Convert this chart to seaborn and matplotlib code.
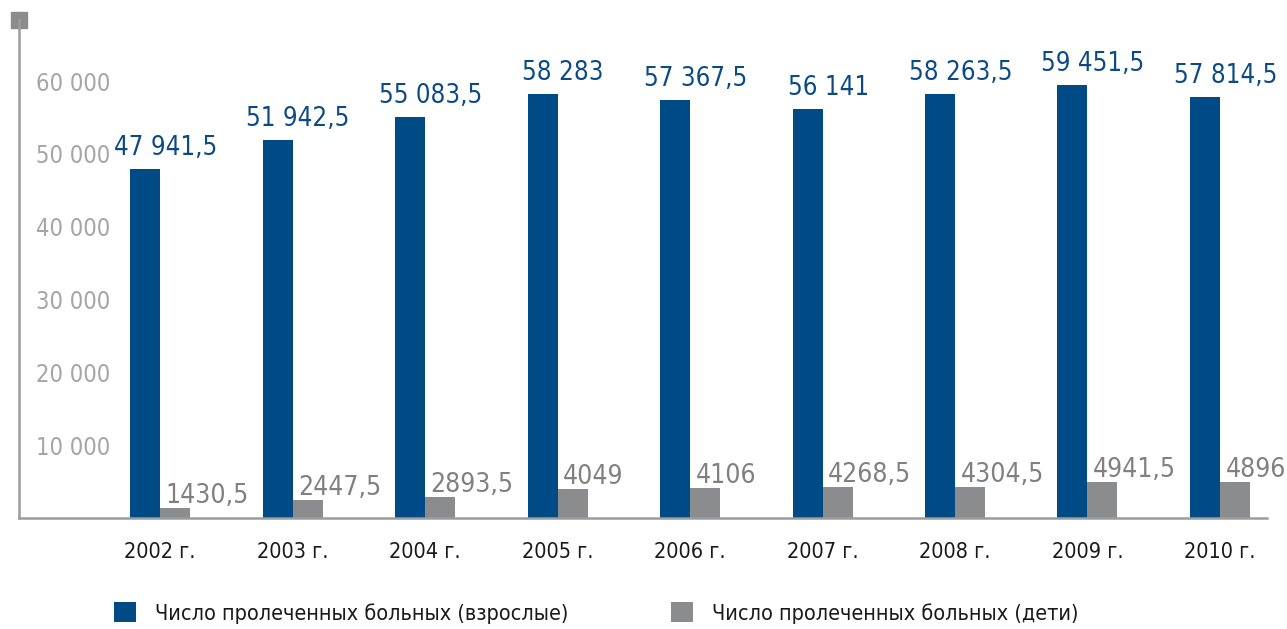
import matplotlib
matplotlib.use("Agg")
import matplotlib.pyplot as plt
import matplotlib.ticker as mticker
import pandas as pd
import seaborn as sns

# данные
years = ["2002 г.", "2003 г.", "2004 г.", "2005 г.", "2006 г.",
         "2007 г.", "2008 г.", "2009 г.", "2010 г."]
adults = [47941.5, 51942.5, 55083.5, 58283, 57367.5, 56141, 58263.5, 59451.5, 57814.5]
children = [1430.5, 2447.5, 2893.5, 4049, 4106, 4268.5, 4304.5, 4941.5, 4896]
series_names = ["Число пролеченных больных (взрослые)", "Число пролеченных больных (дети)"]

BLUE = "#004a86"
GRAY = "#8b8c8e"
AXIS = "#9c9c9c"

sns.set_style("white")
plt.rcParams["font.family"] = ["DejaVu Sans"]
plt.rcParams["font.stretch"] = "condensed"

df = pd.DataFrame({
    "year": years * 2,
    "value": adults + children,
    "group": [series_names[0]] * len(years) + [series_names[1]] * len(years),
})

W, H = 1287, 629
fig = plt.figure(figsize=(W / 100, H / 100), dpi=100)
ax = fig.add_axes([19 / W, 1 - 518 / H, 1248 / W, 498 / H])

sns.barplot(data=df, x="year", y="value", hue="group", palette=[BLUE, GRAY],
            width=0.453, gap=0, dodge=True, saturation=1, linewidth=0, ax=ax)
handles, labels = ax.get_legend_handles_labels()
ax.get_legend().remove()

ax.set_xlim(-1.065, 8.355)
ax.set_ylim(0, 68400)
ax.set_xlabel("")
ax.set_ylabel("")

# оси
sns.despine(ax=ax)
for side in ["left", "bottom"]:
    ax.spines[side].set_color(AXIS)
    ax.spines[side].set_linewidth(1.8)

ax.set_yticks([10000, 20000, 30000, 40000, 50000, 60000])
ax.yaxis.set_major_formatter(mticker.FuncFormatter(lambda v, p: f"{v:,.0f}".replace(",", " ")))
ax.tick_params(axis="y", direction="in", length=5.8, width=1.5, color=AXIS,
               labelcolor="#a6a6a6", labelsize=17, pad=-12.5)
for t in ax.get_yticklabels():
    t.set_ha("left")

ax.tick_params(axis="x", which="major", length=0, labelsize=15.5, labelcolor="#1a1a1a", pad=17)
ax.set_xticks([i + 0.42 for i in range(len(years) - 1)] + [ax.get_xlim()[1]], minor=True)
ax.tick_params(axis="x", which="minor", direction="out", length=7.5, width=1.5, color=AXIS)

# квадратик сверху оси
ax.plot([ax.get_xlim()[0]], [ax.get_ylim()[1]], marker="s", markersize=11.5,
        color="#8c8c8c", clip_on=False)

# подписи значений
for bar, val in zip(ax.containers[0], adults):
    txt = f"{val:,.1f}".replace(",", " ").replace(".", ",").replace(",0", "")
    ax.annotate(txt, (bar.get_x() + bar.get_width(), bar.get_height()),
                textcoords="offset points", xytext=(4, 10), ha="center", va="baseline",
                fontsize=18.5, color="#0b4a84")

for bar, val in zip(ax.containers[1], children):
    txt = f"{val:.1f}".replace(".", ",").replace(",0", "")
    ax.annotate(txt, (bar.get_x(), bar.get_height()),
                textcoords="offset points", xytext=(4, 3.6), ha="left", va="baseline",
                fontsize=19, color="#808080")

# легенда
for h, lab, x0 in zip(handles, labels, [114, 671]):
    fig.legend([h], [lab], loc="center left", bbox_to_anchor=(x0 / W, 1 - 613 / H),
               frameon=False, fontsize=15.5, handlelength=1.0, handleheight=1.0,
               handletextpad=0.9, borderpad=0, borderaxespad=0, labelcolor="#1a1a1a")

fig.savefig("out.png", dpi=100)
